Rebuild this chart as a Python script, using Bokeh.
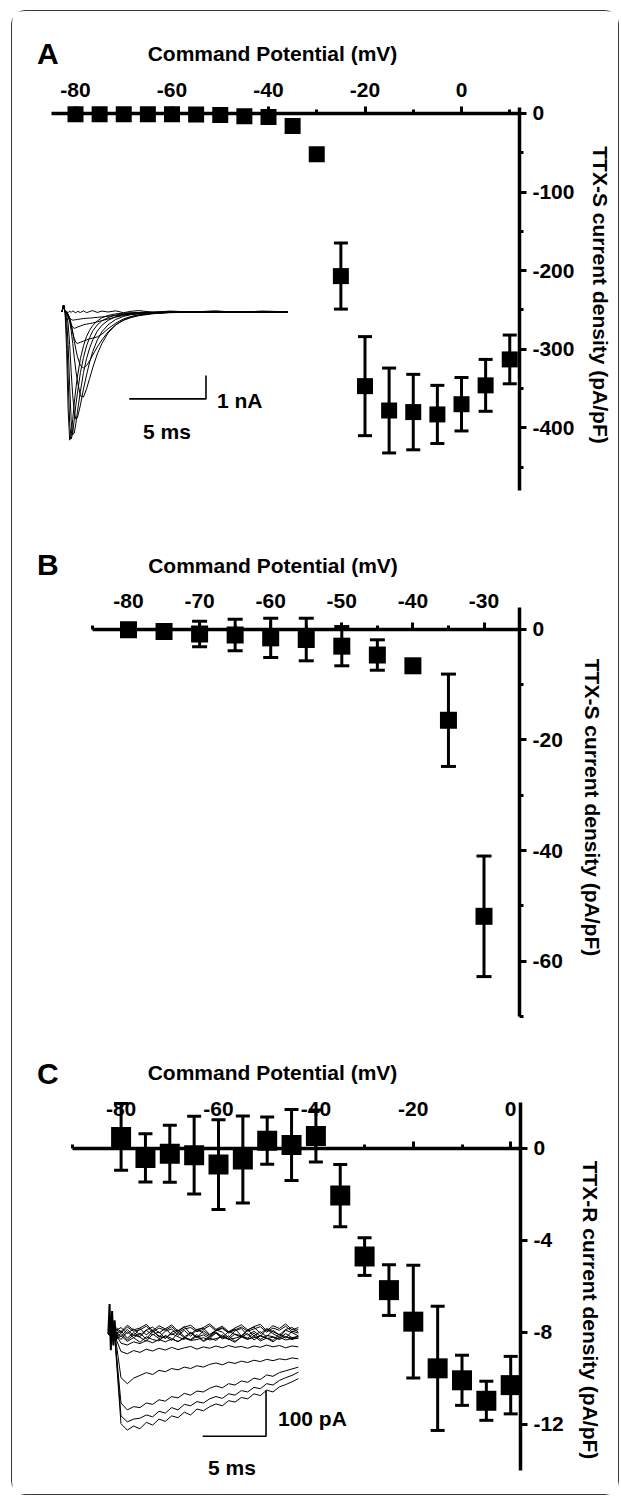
import math
from bokeh.plotting import figure
from bokeh.models import Range1d, FixedTicker, Label
from bokeh.layouts import column
from bokeh.embed import file_html
from bokeh.resources import INLINE

# ------------------------------------------------------------------ data
# Panel A : TTX-S current density (pA/pF) vs command potential (mV)
a_volt = [-80, -75, -70, -65, -60, -55, -50, -45, -40, -35, -30, -25, -20, -15, -10, -5, 0, 5, 10]
a_mean = [-1, -1, -1, -1, -1, -1.5, -2, -3.5, -4.5, -16, -52, -207, -347, -378, -380, -383, -370, -346, -313]
a_sem = [2, 2, 2, 2, 2, 2, 2, 2, 2, 4, 5, 42, 63, 54, 48, 37, 34, 33, 31]
a_x_ticks = [-80, -60, -40, -20, 0]
a_x_labels = ["-80", "-60", "-40", "-20", "0"]
a_x_minor = [-70, -50, -30, -10, 10]
a_y_ticks = [0, -100, -200, -300, -400]
a_y_labels = ["0", "-100", "-200", "-300", "-400"]
a_y_minor = [-50, -150, -250, -350, -450]

# Panel B : TTX-S current density, low-voltage range
b_volt = [-80, -75, -70, -65, -60, -55, -50, -45, -40, -35, -30]
b_mean = [-0.1, -0.4, -0.85, -1.05, -1.55, -1.85, -3.05, -4.65, -6.6, -16.45, -51.9]
b_sem = [0.5, 0.5, 2.3, 2.85, 3.55, 3.85, 3.55, 2.75, 1.0, 8.35, 10.9]
b_x_ticks = [-80, -70, -60, -50, -40, -30]
b_x_labels = ["-80", "-70", "-60", "-50", "-40", "-30"]
b_x_minor = [-85, -75, -65, -55, -45, -35, -25]
b_y_ticks = [0, -20, -40, -60]
b_y_labels = ["0", "-20", "-40", "-60"]
b_y_minor = [-10, -30, -50, -70]

# Panel C : TTX-R current density
c_volt = [-80, -75, -70, -65, -60, -55, -50, -45, -40, -35, -30, -25, -20, -15, -10, -5, 0]
c_mean = [0.48, -0.43, -0.25, -0.31, -0.72, -0.50, 0.32, 0.13, 0.52, -2.07, -4.72, -6.18, -7.55, -9.58, -10.1, -10.99, -10.31]
c_sem = [1.45, 1.05, 1.24, 1.69, 1.95, 1.89, 1.03, 1.54, 1.13, 1.35, 0.82, 1.1, 2.45, 2.7, 1.09, 0.85, 1.25]
c_x_ticks = [-80, -60, -40, -20, 0]
c_x_labels = ["-80", "-60", "-40", "-20", "0"]
c_x_minor = [-90, -70, -50, -30, -10]
c_y_ticks = [0, -4, -8, -12]
c_y_labels = ["0", "-4", "-8", "-12"]

# Inset A : TTX-S current traces (time ms, current nA)
ins_a_t = [0, 0.1, 0.2, 0.3, 0.4, 0.5, 0.6, 0.7, 0.8, 0.9, 1.0, 1.2, 1.4, 1.6, 1.8, 2.0,
           2.3, 2.6, 3.0, 3.5, 4.0, 4.5, 5.0, 6.0, 7.0, 8.5, 10.0, 11.5, 13.0, 14.7]
ins_a_traces = [
    [0, 0.3, 0, -1.6, -4.2, -5.5, -5.3, -4.6, -3.9, -3.3, -2.8, -2.0, -1.45, -1.05, -0.78, -0.58,
     -0.38, -0.25, -0.15, -0.08, -0.05, -0.03, -0.02, 0, 0.02, 0, 0.02, 0, 0.02, 0],
    [0, 0.3, 0, -0.8, -2.8, -4.8, -5.45, -5.2, -4.6, -4.0, -3.5, -2.6, -1.95, -1.45, -1.1, -0.82,
     -0.55, -0.38, -0.24, -0.13, -0.08, -0.05, -0.03, -0.01, 0, 0.02, 0, 0.02, 0, 0],
    [0, 0.3, 0, -0.3, -1.4, -3.2, -4.7, -5.25, -5.2, -4.8, -4.3, -3.4, -2.6, -2.0, -1.55, -1.2,
     -0.82, -0.57, -0.36, -0.2, -0.12, -0.07, -0.04, -0.02, 0, 0, 0.02, 0, 0, 0.02],
    [0, 0.3, 0, -0.1, -0.5, -1.4, -2.6, -3.6, -4.3, -4.6, -4.55, -4.0, -3.3, -2.7, -2.15, -1.7,
     -1.2, -0.85, -0.55, -0.32, -0.19, -0.11, -0.07, -0.03, -0.01, 0, 0, 0.02, 0, 0],
    [0, 0.3, 0, 0, -0.15, -0.4, -0.8, -1.35, -1.95, -2.5, -2.95, -3.6, -3.65, -3.3, -2.85, -2.4,
     -1.8, -1.35, -0.9, -0.55, -0.34, -0.21, -0.13, -0.05, -0.02, 0, 0, 0, 0.02, 0],
    [0, 0.3, 0, 0, -0.1, -0.25, -0.5, -0.85, -1.25, -1.6, -1.9, -2.3, -2.4, -2.3, -2.1, -1.85,
     -1.5, -1.2, -0.85, -0.55, -0.36, -0.24, -0.16, -0.07, -0.03, -0.01, 0, 0, 0, 0],
    [0, 0.3, 0, 0, -0.1, -0.3, -0.6, -0.9, -1.15, -1.3, -1.35, -1.3, -1.25, -1.2, -1.15, -1.12,
     -1.07, -0.95, -0.72, -0.48, -0.3, -0.19, -0.12, -0.05, -0.02, 0, 0, 0, 0, 0],
    [0, 0.3, 0, -0.05, -0.2, -0.4, -0.55, -0.65, -0.7, -0.68, -0.65, -0.6, -0.55, -0.52, -0.5, -0.47,
     -0.42, -0.37, -0.3, -0.22, -0.15, -0.1, -0.07, -0.03, -0.01, 0, 0, 0, 0, 0],
    [0, 0.3, 0, -0.05, -0.15, -0.25, -0.32, -0.35, -0.34, -0.33, -0.32, -0.3, -0.28, -0.27, -0.26, -0.25,
     -0.23, -0.21, -0.18, -0.15, -0.12, -0.09, -0.07, -0.04, -0.02, 0, 0, 0, 0, 0],
    [0, 0.3, 0, 0.02, -0.03, 0.04, -0.02, 0.05, 0.0, -0.04, 0.03, -0.02, 0.05, -0.03, 0.02, 0.06,
     -0.02, 0.04, 0.0, 0.05, -0.03, 0.03, 0.06, -0.02, 0.04, 0.0, 0.05, -0.02, 0.04, 0.01],
]

# Inset C : TTX-R current traces (time ms, current pA)
ins_c_t = [0, 0.5, 1.0, 1.5, 2.0, 2.5, 3.0, 3.5, 4.0, 4.5, 5.0, 5.5, 6.0, 6.5, 7.0, 7.5,
           8.0, 8.5, 9.0, 9.5, 10.0, 10.5, 11.0, 11.5, 12.0, 12.5, 13.0, 13.5, 14.0, 14.5, 15.0]
ins_c_traces = [
    [0, 8, -6, 10, -4, 12, -2, 9, -7, 6, 11, -3, 8, -5, 10, 2, -6, 9, 4, -8, 7, 12, -3, 6, -5, 10, 1, -7, 8, 3, -4],
    [0, -5, 7, -9, 3, -6, 8, -2, 5, -10, 4, 9, -6, 2, -8, 7, -3, 5, -9, 6, -1, -7, 9, -4, 5, -6, 8, -2, -9, 6, 2],
    [0, 3, -12, 5, -8, 2, -11, 6, -4, -9, 1, -6, -12, 4, -7, -2, -10, 3, -5, -11, 0, -4, -9, 2, -12, -3, -6, -10, 1, -8, -5],
    [0, 12, 2, 15, 6, 9, 17, 4, 13, 8, 16, 3, 11, 14, 5, 10, 18, 7, 12, 2, 9, 15, 6, 11, 16, 4, 13, 8, 17, 5, 10],
    [0, -14, -4, -16, -8, -18, -6, -12, -15, -3, -10, -17, -7, -13, -5, -16, -9, -14, -2, -11, -18, -6, -12, -4, -15, -9, -17, -7, -13, -10, -5],
    [0, 6, 14, 1, 11, -3, 9, 15, 2, 12, -2, 7, 16, 0, 10, 13, -1, 8, 14, 3, 11, -4, 9, 15, 1, 12, 5, -2, 10, 14, 4],
    [0, -9, 1, -13, -2, -7, -16, 0, -10, -5, -14, 3, -8, -12, -1, -15, -6, 2, -11, -4, -16, -7, 1, -13, -3, -9, -14, 0, -6, -12, -8],
    [0, 16, 5, 19, 9, 13, 21, 7, 18, 11, 20, 6, 15, 19, 8, 14, 22, 10, 17, 5, 13, 20, 9, 16, 21, 7, 18, 12, 22, 9, 14],
    [0, -4, -195, -209, -200, -206, -192, -198, -185, -190, -178, -182, -170, -176, -163, -167, -158, -152, -156, -145, -148, -138, -141, -130, -134, -122, -126, -115, -110, -104, -97],
    [0, 3, -178, -191, -185, -183, -176, -180, -168, -172, -160, -165, -153, -156, -147, -150, -141, -136, -140, -130, -133, -123, -126, -116, -119, -108, -111, -101, -95, -90, -83],
    [0, -2, -150, -165, -158, -160, -150, -153, -143, -146, -136, -139, -129, -133, -124, -126, -118, -113, -117, -108, -111, -102, -105, -96, -99, -89, -92, -84, -80, -76, -72],
    [0, 5, -95, -108, -96, -90, -84, -88, -79, -82, -75, -78, -72, -75, -69, -72, -66, -63, -67, -61, -64, -59, -62, -57, -60, -55, -58, -54, -56, -52, -54],
    [0, -3, -38, -43, -36, -40, -33, -37, -31, -35, -29, -34, -30, -27, -33, -28, -31, -26, -30, -25, -29, -27, -31, -26, -29, -24, -28, -25, -30, -26, -28],
    [0, 4, -20, -24, -17, -21, -14, -19, -12, -17, -11, -16, -9, -14, -12, -8, -13, -10, -6, -12, -9, -5, -11, -8, -4, -10, -7, -12, -6, -9, -10],
]
ins_c_art_t = [0, 0.1, 0.2, 0.3, 0.4, 0.5, 0.6, 0.7]
ins_c_art_i = [0, 65, -35, 50, -25, 30, -15, 5]

# ------------------------------------------------------------------ layout helpers
FONT = "Liberation Sans"
FIG_W = 606
OX, OY = 12.5, 11.5        # page position of the figures' origin (inside the frame border)


def make_panel(oy, H, x0p, sx, y0p, sy):
    fl, fr = OX, OX + FIG_W
    ft, fb = oy, oy + H
    p = figure(width=FIG_W, height=H,
               x_range=Range1d((fl - x0p) / sx, (fr - x0p) / sx),
               y_range=Range1d((y0p - fb) / sy, (y0p - ft) / sy),
               x_axis_location="above", y_axis_location="right",
               toolbar_location=None, output_backend="svg",
               min_border=0, min_border_left=0, min_border_right=0,
               min_border_top=0, min_border_bottom=0)
    try:
        p.title = None
    except Exception:
        p.title.visible = False
    p.outline_line_color = None
    p.xgrid.visible = False
    p.ygrid.visible = False
    p.background_fill_color = "white"
    p.border_fill_color = "white"

    def X(px):
        return (px - x0p) / sx

    def Y(py):
        return (y0p - py) / sy
    return p, X, Y, (fl, fr, ft, fb)


def style_axes(p, xb, yb, xt, xl, xm, yt, yl, ym, xstand):
    xa, ya = p.xaxis[0], p.yaxis[0]
    xa.fixed_location = 0
    ya.fixed_location = xb[1]
    xa.bounds = xb
    ya.bounds = yb
    xa.ticker = FixedTicker(ticks=xt, minor_ticks=xm)
    ya.ticker = FixedTicker(ticks=yt, minor_ticks=ym)
    xa.major_label_overrides = {t: s for t, s in zip(xt, xl)}
    ya.major_label_overrides = {t: s for t, s in zip(yt, yl)}
    for ax in (xa, ya):
        ax.axis_line_width = 3.5
        ax.axis_line_color = "black"
        ax.major_tick_line_width = 3
        ax.minor_tick_line_width = 3
        ax.major_tick_line_color = "black"
        ax.minor_tick_line_color = "black"
        ax.major_tick_in = 0
        ax.minor_tick_in = 0
        ax.major_tick_out = 7
        ax.minor_tick_out = 4
        ax.major_label_text_font = FONT
        ax.major_label_text_font_style = "bold"
        ax.major_label_text_font_size = "21px"
        ax.major_label_text_color = "black"
    xa.major_label_standoff = xstand
    ya.major_label_standoff = 6


def add_text(p, X, Y, px, py, text, size, bold=True, align="left", baseline="alphabetic", angle=0.0):
    p.add_layout(Label(x=X(px), y=Y(py), text=text, text_font=FONT,
                       text_font_size=f"{size}px",
                       text_font_style="bold" if bold else "normal",
                       text_align=align, text_baseline=baseline, angle=angle,
                       text_color="black"))


def add_points(p, xs, mean, sem, msize, cap):
    up = [m + s for m, s in zip(mean, sem)]
    lo = [m - s for m, s in zip(mean, sem)]
    p.segment(x0=xs, y0=lo, x1=xs, y1=up, line_width=3, line_color="black")
    p.scatter(xs, up, marker="dash", size=cap, line_width=3, line_color="black")
    p.scatter(xs, lo, marker="dash", size=cap, line_width=3, line_color="black")
    p.scatter(xs, mean, marker="square", size=msize, fill_color="black", line_color=None)


def add_inset(p, frame, t0p, tsx, i0p, isy):
    fl, fr, ft, fb = frame
    p.extra_x_ranges = {"ins": Range1d((fl - t0p) / tsx, (fr - t0p) / tsx)}
    p.extra_y_ranges = {"ins": Range1d((i0p - fb) / isy, (i0p - ft) / isy)}


# ------------------------------------------------------------------ panel A
HA, HB, HC = 493, 518, 472
oyA = OY
pA, XA, YA, frA = make_panel(oyA, HA, 461.5, 4.825, 113.4, 0.786)
style_axes(pA, (-85, 12), (-480, 7), a_x_ticks, a_x_labels, a_x_minor,
           a_y_ticks, a_y_labels, a_y_minor, 9)
add_inset(pA, frA, 62, 15.35, 312, 23.3)
for tr in ins_a_traces:
    pA.line(ins_a_t, tr, line_width=1, line_color="black", x_range_name="ins", y_range_name="ins")
# scale bars: 5 ms and 1 nA
pA.line([4.38, 9.38, 9.38], [-3.73, -3.73, -2.73], line_width=1.6, line_color="black",
        x_range_name="ins", y_range_name="ins")
add_points(pA, a_volt, a_mean, a_sem, 16, 14)
add_text(pA, XA, YA, 37, 53.3, "A", 30)
add_text(pA, XA, YA, 272.5, 53, "Command Potential (mV)", 21, align="center")
add_text(pA, XA, YA, 217, 400, "1 nA", 21)
add_text(pA, XA, YA, 143, 431.5, "5 ms", 21)
add_text(pA, XA, YA, 600, 295, "TTX-S current density (pA/pF)", 21,
         align="center", baseline="middle", angle=-math.pi / 2)

# ------------------------------------------------------------------ panel B
oyB = oyA + HA
pB, XB, YB, frB = make_panel(oyB, HB, 697.3, 7.11, 629.3, 5.53)
style_axes(pB, (-85, -25), (-70, 4), b_x_ticks, b_x_labels, b_x_minor,
           b_y_ticks, b_y_labels, b_y_minor, 14)
add_points(pB, b_volt, b_mean, b_sem, 17, 15)
add_text(pB, XB, YB, 37, 564, "B", 30)
add_text(pB, XB, YB, 273, 565, "Command Potential (mV)", 21, align="center")
add_text(pB, XB, YB, 592.5, 807.5, "TTX-S current density (pA/pF)", 21,
         align="center", baseline="middle", angle=-math.pi / 2)

# ------------------------------------------------------------------ panel C
oyC = oyB + HB
pC, XC, YC, frC = make_panel(oyC, HC, 510.7, 4.87, 1148, 23.0)
style_axes(pC, (-90, 2), (-14, 2), c_x_ticks, c_x_labels, c_x_minor,
           c_y_ticks, c_y_labels, [], 25)
add_inset(pC, frC, 108.3, 12.67, 1334, 0.46)
for tr in ins_c_traces:
    pC.line(ins_c_t, tr, line_width=1, line_color="black", x_range_name="ins", y_range_name="ins")
pC.line(ins_c_art_t, ins_c_art_i, line_width=2, line_color="black", x_range_name="ins", y_range_name="ins")
pC.line([7.45, 12.45, 12.45], [-222.4, -222.4, -122.4], line_width=1.6, line_color="black",
        x_range_name="ins", y_range_name="ins")
add_points(pC, c_volt, c_mean, c_sem, 20, 14)
add_text(pC, XC, YC, 37, 1073, "C", 30)
add_text(pC, XC, YC, 272.5, 1072, "Command Potential (mV)", 21, align="center")
add_text(pC, XC, YC, 278, 1418, "100 pA", 21)
add_text(pC, XC, YC, 208, 1467, "5 ms", 21)
add_text(pC, XC, YC, 590, 1310, "TTX-R current density (pA/pF)", 21,
         align="center", baseline="middle", angle=-math.pi / 2)

layout = column(pA, pB, pC, margin=(10, 0, 0, 11),
                styles={"border": "1.5px solid #3a3a3a", "border-radius": "14px"})

open("out.html", "w").write(file_html(layout, INLINE))
